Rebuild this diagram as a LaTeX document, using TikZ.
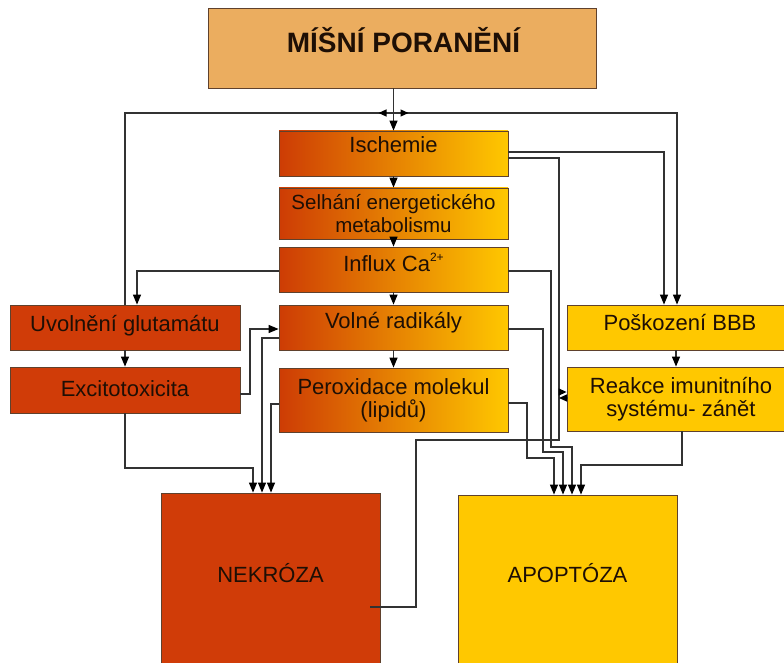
\documentclass[tikz,border=0pt]{standalone}
\usepackage{fontspec}
\setmainfont{Liberation Sans}
\usetikzlibrary{arrows.meta}
\definecolor{topfill}{RGB}{235,173,95}
\definecolor{redfill}{RGB}{208,60,8}
\definecolor{yelfill}{RGB}{255,200,0}
\definecolor{gradL}{RGB}{205,60,5}
\definecolor{gradR}{RGB}{255,200,0}
\definecolor{bordercol}{RGB}{95,65,45}
\definecolor{conncol}{RGB}{50,50,50}
\definecolor{txtcol}{RGB}{30,15,5}
\tikzset{
  box/.style={draw=bordercol, line width=0.8pt, inner sep=0pt, align=center, text=txtcol, font=\fontsize{22}{23}\selectfont},
  redbox/.style={box, fill=redfill},
  yelbox/.style={box, fill=yelfill},
  gradbox/.style={box, left color=gradL, right color=gradR},
  txt/.style={inner sep=0pt, text=txtcol, font=\fontsize{22}{23}\selectfont, anchor=base},
  conn/.style={draw=conncol, line width=1.2pt},
  arr/.style={conn, -{Triangle[length=10pt,width=8pt,color=black,fill=black]}},
  sarr/.style={conn, -{Triangle[length=8pt,width=7pt,color=black,fill=black]}}
}
\begin{document}
\begin{tikzpicture}[x=1pt,y=-1pt]
\useasboundingbox (0,0) rectangle (784,663);
\fill[white] (0,0) rectangle (784,663);

% boxes
\node[box, fill=topfill, minimum width=388pt, minimum height=80pt] (top) at (402,48) {};
\node[txt, font=\fontsize{28}{30}\selectfont\bfseries] (tTop) at (403.5,53) {MÍŠNÍ PORANĚNÍ};

\node[gradbox, minimum width=229pt, minimum height=45pt] (isch) at (393.5,153.5) {};
\node[gradbox, minimum width=229pt, minimum height=51pt, font=\fontsize{20.5}{23}\selectfont] (selh) at (393.5,213.5) {Selhání energetického\\metabolismu};
\node[gradbox, minimum width=229pt, minimum height=45pt] (influx) at (393.5,269.5) {};
\node[gradbox, minimum width=229pt, minimum height=45pt] (volne) at (393.5,327.5) {};
\node[gradbox, minimum width=229pt, minimum height=64pt] (perox) at (393.5,400) {Peroxidace molekul\\(lipidů)};

\node[redbox, minimum width=230pt, minimum height=45pt] (uvol) at (125,327.5) {};
\node[redbox, minimum width=230pt, minimum height=46pt] (excito) at (125,390) {};

\node[yelbox, minimum width=228pt, minimum height=45pt] (bbb) at (681,327.5) {};
\node[yelbox, minimum width=228pt, minimum height=64pt] (reak) at (681,399) {Reakce imunitního\\systému- zánět};

\node[redbox, minimum width=219pt, minimum height=180pt] (nek) at (270.5,583) {};
\node[yelbox, minimum width=219pt, minimum height=178pt] (apop) at (567.5,584) {};

% texts
\node[txt] (tIsch) at (393.5,153) {Ischemie};
\node[txt] (tInf) at (393.5,271) {Influx Ca\raisebox{10pt}{\fontsize{12}{12}\selectfont 2+}};
\node[txt] (tVol) at (393.5,328) {Volné radikály};
\node[txt] (tUv) at (125,331) {Uvolnění glutamátu};
\node[txt] (tEx) at (125,396) {Excitotoxicita};
\node[txt] (tBBB) at (680,330) {Poškození BBB};
\node[txt] (tNek) at (270.5,582) {NEKRÓZA};
\node[txt] (tApo) at (567.5,582) {APOPTÓZA};

% connectors
\coordinate (J) at (393.5,113);
\draw[conn] (top.south -| J) -- (J);
\draw[arr] (J) -- (isch.north);
\draw[conn] (J) -- (J -| uvol.north) -- (uvol.north);
\draw[arr] (J) -- (677,113) -- (bbb.north -| 677,0);
\draw[sarr] (J) -- ++(-15,0);
\draw[sarr] (J) -- ++(15,0);

\draw[arr] (isch.south) -- (selh.north);
\draw[arr] (selh.south) -- (influx.north);
\draw[arr] (influx.south) -- (volne.north);
\draw[arr] (volne.south) -- (perox.north);

\draw[arr] (isch.east |- 0,152) -| (bbb.north -| 664,0);
\coordinate (nekin) at (370,607);
\draw[conn] (isch.east |- 0,158) -| (559,440) -| (416,607) -- (nekin);
\draw[sarr] (559,392) -- (reak.west |- 0,392);
\draw[sarr] (reak.west |- 0,398) -- (559,398);

\draw[arr] (influx.west |- 0,271) -| (uvol.north -| 137,0);
\draw[arr] (influx.east |- 0,271) -| (551,447) -| (apop.north -| 572,0);
\draw[arr] (volne.east |- 0,329) -| (543,452) -| (apop.north -| 563,0);
\draw[arr] (perox.east |- 0,403) -| (527,458) -| (apop.north -| 554,0);
\draw[arr] (reak.south -| 682,0) |- (581,465) -- (apop.north -| 581,0);
\draw[arr] (bbb.south -| 676,0) -- (reak.north -| 676,0);

\draw[arr] (uvol.south) -- (excito.north);
\draw[arr] (excito.east |- 0,394) -| (250,329) -- (volne.west |- 0,329);
\draw[arr] (excito.south) |- (253,468) -- (nek.north -| 253,0);
\draw[arr] (volne.west |- 0,338) -| (nek.north -| 262,0);
\draw[arr] (perox.west |- 0,404) -| (nek.north -| 271,0);
\end{tikzpicture}
\end{document}
